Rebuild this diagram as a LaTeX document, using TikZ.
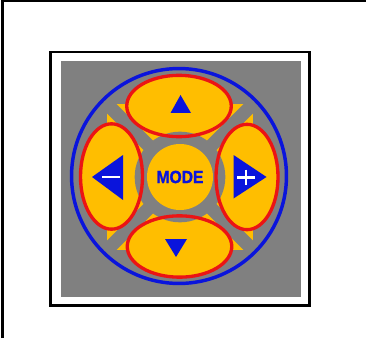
\documentclass[tikz,border=0pt]{standalone}
\usepackage{fontspec}
\newfontfamily\modefont{Liberation Sans}[BoldFeatures={FakeBold=1.3}]
\usetikzlibrary{shapes.geometric}
\definecolor{padyellow}{RGB}{255,190,0}
\definecolor{padgray}{RGB}{128,128,128}
\definecolor{padblue}{RGB}{10,20,220}
\definecolor{padred}{RGB}{235,20,20}
\begin{document}
\begin{tikzpicture}[x=0.75pt,y=-0.75pt,
  ellfill/.style={ellipse, fill=padyellow, inner sep=0pt},
  ellring/.style={ellipse, draw=padred, line width=2.5pt, inner sep=0pt},
  horiz/.style={minimum width=78.4pt, minimum height=46pt},
  vert/.style={minimum width=46.5pt, minimum height=79pt},
  glyph/.style={fill=padblue},
  sign/.style={draw=white, line width=2.2pt}]
\useasboundingbox (0,0) rectangle (366,338);
\fill[white] (0,0) rectangle (366,338);
% outer frame (left and top edges)
\coordinate (fl) at (2.5,338);
\coordinate (ftl) at (2.5,1.2);
\coordinate (ftr) at (366,1.2);
\draw[line width=1.9pt] (fl) -- (ftl) -- (ftr);
% inner box
\draw[line width=1.7pt, fill=white] (50.5,52) rectangle (309.5,305.5);
\fill[padgray] (60.7,61) rectangle (301,296.7);
% blue ring
\coordinate (c) at (180,177);
\draw[padblue, line width=2.6pt] (179,176) circle[radius=80.6pt];
% yellow square cut by grey diagonals
\fill[padyellow] (107,104) rectangle (253,250);
\draw[padgray, line width=10pt] (107,104) -- (253,250);
\draw[padgray, line width=10pt] (253,104) -- (107,250);
% button fills
\node[ellfill, horiz] (up) at (179,106) {};
\node[ellfill, horiz] (down) at (179.5,246.5) {};
\node[ellfill, vert] (left) at (111.5,176.5) {};
\node[ellfill, vert] (right) at (247,177) {};
% grey ring around mode
\fill[padgray] (c) circle[radius=34pt];
\node[circle, fill=padyellow, minimum size=49.5pt, inner sep=0pt, text=padblue,
  font=\modefont\bfseries\fontsize{13.2}{13.2}\selectfont] (mode) at (c) {\scalebox{0.89}[1]{MODE}};
% red outlines
\node[ellring, horiz] (upring) at (up) {};
\node[ellring, horiz] (downring) at (down) {};
\node[ellring, vert] (leftring) at (left) {};
\node[ellring, vert] (rightring) at (right) {};
% glyphs
\fill[glyph] (180.5,95) -- (170.5,113) -- (191,113) -- cycle;
\fill[glyph] (165,239) -- (187,239) -- (176,257) -- cycle;
\fill[glyph] (92,177) -- (123,155) -- (123,200) -- cycle;
\fill[glyph] (266.5,177) -- (233.5,155) -- (233.5,198.5) -- cycle;
\draw[sign] (102,177) -- (120,177);
\draw[sign] (237,177.3) -- (255,177.3);
\draw[sign] (246,169.5) -- (246,185);
\end{tikzpicture}
\end{document}
